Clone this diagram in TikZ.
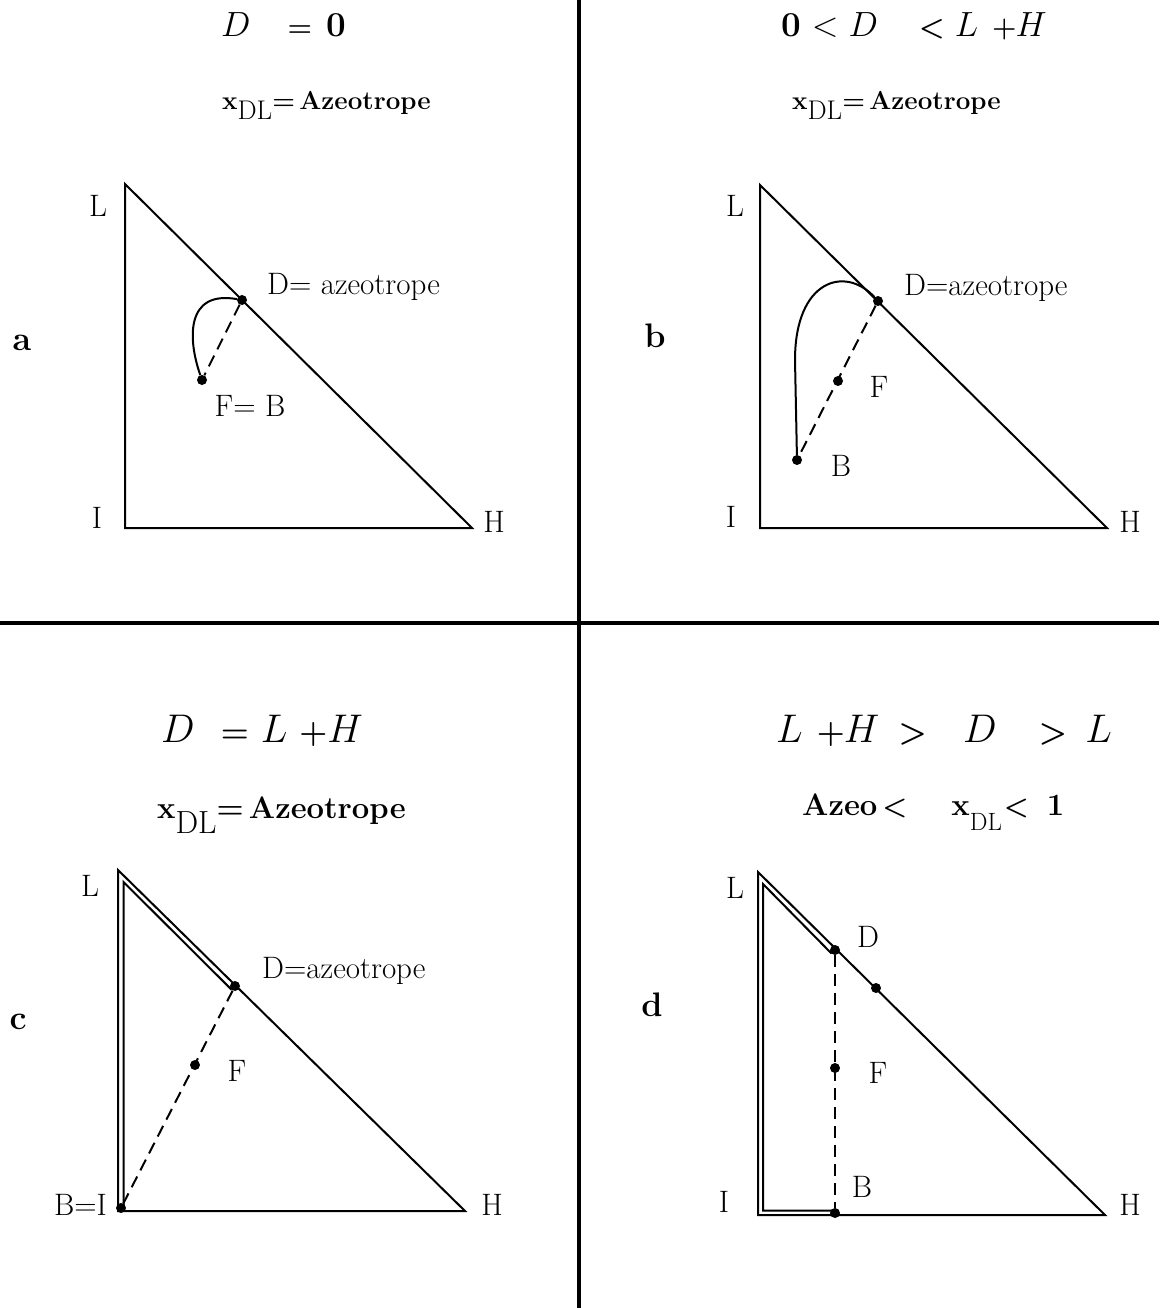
\RequirePackage{fix-cm}
\documentclass[tikz,border=0pt]{standalone}
\usepackage{amsmath}
\usepackage{tikz}
\usetikzlibrary{calc,positioning}

% bold operators at a smaller size, and the lowered DL index
\newcommand{\bop}[2]{{\fontsize{#1}{#1}\selectfont\textbf{#2}}}
\newcommand{\bmop}[2]{{\fontsize{#1}{#1}\selectfont$\boldsymbol{#2}$}}
\newcommand{\dlidx}[2]{\raisebox{-#2}{\fontsize{#1}{#1}\selectfont\mdseries DL}}

\begin{document}
\begin{tikzpicture}[x=1pt, y=-1pt,
      lbl/.style={inner sep=0pt, font=\fontsize{31}{36}\selectfont},
      ttl/.style={inner sep=0pt, anchor=base west, font=\fontsize{35}{40}\selectfont},
      bigttl/.style={inner sep=0pt, anchor=base west, font=\fontsize{40}{46}\selectfont},
      sub/.style={inner sep=0pt, anchor=base west, font=\fontsize{26}{30}\selectfont\bfseries},
      bigsub/.style={inner sep=0pt, anchor=base west, font=\fontsize{31}{36}\selectfont\bfseries},
      tag/.style={inner sep=0pt, font=\fontsize{34}{40}\selectfont\bfseries},
      dot/.style={circle, fill, inner sep=0pt, minimum size=10pt},
      tri/.style={line width=2pt, line join=miter},
      tie/.style={line width=2pt, dash pattern=on 12pt off 7pt},
      loopline/.style={line width=2pt}
    ]
      \useasboundingbox (0,0) rectangle (1159,1308);

      % quadrant dividers
      \draw[line width=4pt] (579,0) -- (579,1308);
      \draw[line width=4pt] (0,623) -- (1159,623);

      % ---- a: D = 0
      \node[ttl] (ta) at (221,37) {$D$\hspace{37pt}\bop{28}{=}\hspace{14pt}\textbf{0}};
      \node[sub] (sa) at (222,110) {x\dlidx{27}{10pt}=\,Azeotrope};
      \node[tag] (a) at (22,343) {a};
      \coordinate (aL) at (125,184);
      \coordinate (aI) at (125,528);
      \coordinate (aH) at (472,528);
      \draw[tri] (aL) -- (aI) -- (aH) -- cycle;
      \node[lbl] at (98,206) {L};
      \node[lbl] at (97,518) {I};
      \node[lbl] at (494,522) {H};
      \node[dot] (aD) at (242,300) {};
      \node[dot] (aF) at (202,380) {};
      \node[lbl, anchor=west] (aDl) at (267,287) {D= azeotrope};
      \node[lbl] (aFl) at (250,406) {F= B};
      \draw[tie] (aD) -- (aF);
      \draw[loopline] (aD) .. controls (185,290) and (188,340) .. (aF);

      % ---- b: 0 < D < L+H
      \node[ttl] (tb) at (781,37) {\textbf{0}\hspace{11pt}$<$\hspace{10pt}$D$\hspace{41pt}\bmop{29}{<}\hspace{10pt}$L$\hspace{14pt}\bop{28}{+}\hspace{-1pt}$H$};
      \node[sub] (sb) at (792,110) {x\dlidx{27}{10pt}=\,Azeotrope};
      \node[tag] (b) at (655,336) {b};
      \coordinate (bL) at (760,185);
      \coordinate (bI) at (760,528);
      \coordinate (bH) at (1107,528);
      \draw[tri] (bL) -- (bI) -- (bH) -- cycle;
      \node[lbl] at (735,206) {L};
      \node[lbl] at (731,517) {I};
      \node[lbl] at (1130,522) {H};
      \node[dot] (bD) at (878,301) {};
      \node[dot] (bF) at (838,381) {};
      \node[dot] (bB) at (797,460) {};
      \node[lbl, anchor=west] (bDl) at (904,288) {D=azeotrope};
      \node[lbl] (bFl) at (879,387) {F};
      \node[lbl] (bBl) at (841,466) {B};
      \draw[tie] (bD) -- (bB);
      \draw[loopline] (bD) .. controls (845,265) and (795,280) .. (795,360) -- (bB);

      % ---- c: D = L+H
      \node[bigttl] (tc) at (161,742) {$D$\hspace{26pt}\bop{32}{=}\hspace{12pt}$L$\hspace{12pt}\bop{32}{+}\hspace{0pt}$H$};
      \node[bigsub] (sc) at (157,818) {x\dlidx{32}{15pt}=\,Azeotrope};
      \node[tag] (c) at (18,1022) {c};
      \coordinate (cL) at (118,870);
      \coordinate (cI) at (118,1211);
      \coordinate (cH) at (465,1211);
      \draw[tri] (cL) -- (cI) -- (cH) -- cycle;
      \draw[tri] (231.5,989.6) -- (123.5,882) -- (123.5,1207);
      \node[lbl] at (90,886) {L};
      \node[lbl] at (492,1205) {H};
      \node[dot] (cD) at (235,986) {};
      \node[dot] (cF) at (195,1065) {};
      \node[dot] (cB) at (121,1208) {};
      \node[lbl, anchor=east] (cBl) at (107,1205) {B=I};
      \node[lbl, anchor=west] (cDl) at (262,971) {D=azeotrope};
      \node[lbl] (cFl) at (237,1071) {F};
      \draw[tie] (cD) -- (cB);

      % ---- d: L+H > D > L
      \node[bigttl] (td) at (776,742) {$L$\hspace{14pt}\bop{32}{+}\hspace{-1pt}$H$\hspace{19pt}\bmop{32}{>}\hspace{36pt}$D$\hspace{42pt}\bmop{32}{>}\hspace{18pt}$L$};
      \node[bigsub] (sd) at (802,815) {Azeo\hspace{5pt}\bmop{28}{<}\hspace{44pt}x\dlidx{25}{15pt}\hspace{2pt}\bmop{28}{<}\hspace{18pt}1};
      \node[tag] (d) at (652,1005) {d};
      \coordinate (dL) at (758,872);
      \coordinate (dI) at (758,1215);
      \coordinate (dH) at (1105,1215);
      \draw[tri] (dL) -- (dI) -- (dH) -- cycle;
      \draw[tri] (831.5,953.5) -- (763,884) -- (763,1210.5) -- (835,1210.5);
      \node[lbl] at (735,888) {L};
      \node[lbl] at (724,1202) {I};
      \node[lbl] at (1130,1205) {H};
      \node[dot] (dD) at (835,950) {};
      \node[dot] (dX) at (876,988) {};
      \node[dot] (dF) at (835,1068) {};
      \node[dot] (dB) at (835,1213) {};
      \node[lbl] (dDl) at (868,937) {D};
      \node[lbl] (dFl) at (878,1073) {F};
      \node[lbl] (dBl) at (862,1187) {B};
      \draw[tie] (dD) -- (dB);
    \end{tikzpicture}
\end{document}
